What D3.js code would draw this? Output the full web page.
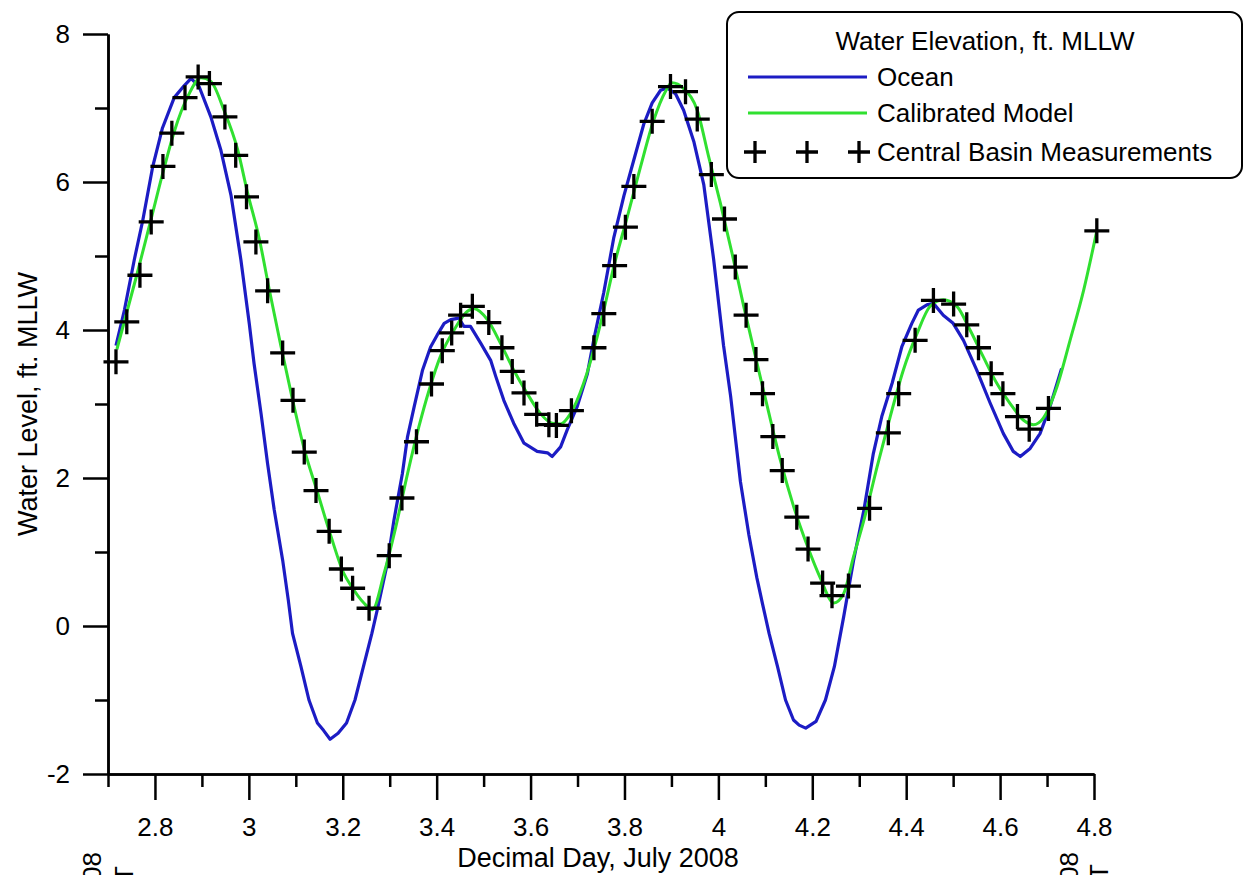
<!DOCTYPE html>
<html lang="en">
<head>
<meta charset="utf-8">
<title>Water Elevation</title>
<script src="https://cdn.jsdelivr.net/npm/d3@7"></script>
<style>
  body { margin: 0; background: #fff; }
  svg { display: block; }
  text { font-family: "Liberation Sans", Arial, sans-serif; fill: #000; }
</style>
</head>
<body>
<script>

// ---- data ----
var xTicks = [2.8, 3, 3.2, 3.4, 3.6, 3.8, 4, 4.2, 4.4, 4.6, 4.8];
var xMinorTicks = [2.7, 2.9, 3.1, 3.3, 3.5, 3.7, 3.9, 4.1, 4.3, 4.5, 4.7];
var yTicks = [-2, 0, 2, 4, 6, 8];
var yMinorTicks = [-1, 1, 3, 5, 7];

var seriesNames = ["Ocean", "Calibrated Model", "Central Basin Measurements"];

// Ocean (blue)
var oceanDay = [2.717, 2.735, 2.756, 2.774, 2.795, 2.816, 2.841, 2.862, 2.877, 2.894, 2.919, 2.940, 2.962, 2.983,
  3.001, 3.011, 3.026, 3.040, 3.054, 3.072, 3.084, 3.093, 3.111, 3.128, 3.146, 3.159, 3.173, 3.190, 3.208, 3.226,
  3.244, 3.262, 3.275, 3.295, 3.309, 3.327, 3.338, 3.352, 3.370, 3.387, 3.401, 3.416, 3.430, 3.447, 3.458, 3.472,
  3.494, 3.515, 3.526, 3.543, 3.564, 3.586, 3.614, 3.636, 3.646, 3.664, 3.678, 3.699, 3.721, 3.735, 3.756, 3.777,
  3.799, 3.820, 3.841, 3.859, 3.877, 3.891, 3.909, 3.926, 3.948, 3.969, 3.990, 4.011, 4.026, 4.047, 4.065, 4.082,
  4.094, 4.108, 4.126, 4.143, 4.160, 4.172, 4.186, 4.208, 4.228, 4.247, 4.267, 4.288, 4.310, 4.330, 4.348, 4.370,
  4.391, 4.412, 4.426, 4.444, 4.458, 4.479, 4.500, 4.522, 4.550, 4.579, 4.607, 4.628, 4.643, 4.664, 4.685, 4.706, 4.731];
var oceanLevel = [3.79, 4.27, 4.95, 5.48, 6.20, 6.73, 7.14, 7.30, 7.40, 7.29, 6.88, 6.44, 5.82, 4.95,
  4.08, 3.55, 2.87, 2.19, 1.57, 0.89, 0.35, -0.10, -0.55, -1.00, -1.31, -1.41, -1.53, -1.45, -1.31, -1.00,
  -0.55, -0.10, 0.26, 0.85, 1.43, 2.06, 2.56, 2.96, 3.46, 3.77, 3.93, 4.09, 4.14, 4.16, 4.05, 4.05,
  3.82, 3.59, 3.37, 3.05, 2.74, 2.47, 2.36, 2.34, 2.29, 2.42, 2.65, 2.96, 3.41, 3.88, 4.51, 5.24,
  5.82, 6.30, 6.78, 7.07, 7.24, 7.27, 7.19, 6.97, 6.54, 5.96, 4.95, 3.79, 3.11, 1.95, 1.23, 0.65,
  0.30, -0.10, -0.55, -1.00, -1.27, -1.34, -1.38, -1.29, -1.00, -0.55, 0.13, 0.89, 1.57, 2.33, 2.83, 3.28,
  3.78, 4.09, 4.27, 4.34, 4.36, 4.20, 4.09, 3.86, 3.46, 3.01, 2.60, 2.36, 2.29, 2.40, 2.60, 2.96, 3.48];

// Calibrated model (green)
var modelDay = [2.719, 2.762, 2.791, 2.820, 2.841, 2.871, 2.898, 2.919, 2.947, 2.976, 2.997, 3.022, 3.043, 3.068,
  3.093, 3.118, 3.146, 3.174, 3.203, 3.217, 3.245, 3.263, 3.288, 3.313, 3.338, 3.362, 3.384, 3.409, 3.437, 3.465,
  3.479, 3.508, 3.536, 3.564, 3.593, 3.621, 3.646, 3.664, 3.685, 3.713, 3.742, 3.756, 3.777, 3.806, 3.834, 3.862,
  3.887, 3.901, 3.926, 3.955, 3.979, 4.004, 4.029, 4.054, 4.079, 4.104, 4.132, 4.160, 4.189, 4.217, 4.246, 4.267,
  4.288, 4.310, 4.338, 4.366, 4.394, 4.423, 4.451, 4.479, 4.508, 4.536, 4.564, 4.593, 4.621, 4.650, 4.671, 4.692,
  4.721, 4.749, 4.778, 4.806];
var modelLevel = [3.74, 4.76, 5.48, 6.20, 6.68, 7.17, 7.41, 7.36, 6.97, 6.44, 5.86, 5.24, 4.56, 3.79,
  3.06, 2.39, 1.81, 1.23, 0.70, 0.55, 0.31, 0.22, 0.71, 1.34, 2.06, 2.69, 3.19, 3.66, 4.00, 4.25,
  4.29, 4.14, 3.82, 3.46, 3.14, 2.87, 2.74, 2.73, 2.87, 3.28, 3.91, 4.27, 4.85, 5.53, 6.20, 6.83,
  7.22, 7.34, 7.26, 6.97, 6.35, 5.72, 5.04, 4.32, 3.64, 2.97, 2.24, 1.62, 1.09, 0.65, 0.31, 0.44,
  0.94, 1.43, 2.15, 2.83, 3.46, 3.95, 4.32, 4.41, 4.32, 4.00, 3.64, 3.28, 3.01, 2.78, 2.72, 2.81,
  3.23, 3.86, 4.54, 5.34];

// Central basin measurements (crosses)
var measDay = [2.717, 2.740, 2.768, 2.792, 2.817, 2.836, 2.864, 2.892, 2.916, 2.949, 2.972, 2.995, 3.015, 3.040,
  3.072, 3.094, 3.118, 3.143, 3.171, 3.197, 3.221, 3.256, 3.299, 3.326, 3.357, 3.389, 3.412, 3.432, 3.451, 3.476,
  3.511, 3.539, 3.561, 3.586, 3.613, 3.639, 3.655, 3.687, 3.735, 3.756, 3.779, 3.802, 3.820, 3.859, 3.898, 3.930,
  3.955, 3.985, 4.013, 4.036, 4.059, 4.080, 4.094, 4.116, 4.136, 4.167, 4.191, 4.222, 4.242, 4.277, 4.322, 4.362,
  4.384, 4.419, 4.458, 4.501, 4.529, 4.554, 4.581, 4.606, 4.637, 4.662, 4.703, 4.806];
var measLevel = [3.57, 4.11, 4.74, 5.46, 6.21, 6.66, 7.14, 7.42, 7.33, 6.88, 6.36, 5.80, 5.19, 4.53,
  3.69, 3.05, 2.35, 1.83, 1.28, 0.77, 0.51, 0.24, 0.95, 1.73, 2.49, 3.27, 3.72, 3.96, 4.20, 4.32,
  4.10, 3.76, 3.44, 3.15, 2.86, 2.72, 2.71, 2.91, 3.76, 4.22, 4.87, 5.39, 5.94, 6.82, 7.29, 7.22,
  6.85, 6.10, 5.50, 4.85, 4.20, 3.60, 3.14, 2.56, 2.10, 1.47, 1.04, 0.58, 0.41, 0.54, 1.59, 2.61,
  3.14, 3.86, 4.40, 4.35, 4.07, 3.76, 3.41, 3.14, 2.83, 2.66, 2.94, 5.34];

// ---- drawing ----
var w = 1246, h = 875;
var blue = "#1c1cc4", green = "#30e030";
var plusPath = "M-12.5,0H12.5M0,-12.5V12.5";

var svg = d3.select("body").append("svg").attr("width", w).attr("height", h);

var x = d3.scaleLinear().domain([2.7, 4.8]).range([108, 1094]);
var y = d3.scaleLinear().domain([-2, 8]).range([774, 34]);

function zip(a, b) { return a.map(function(d, i) { return [d, b[i]]; }); }

var line = d3.line().x(function(d) { return x(d[0]); }).y(function(d) { return y(d[1]); });

// minor ticks first, then major axes on top
svg.append("g").attr("transform", "translate(108,0)")
  .call(d3.axisLeft(y).tickValues(yMinorTicks).tickSize(13).tickSizeOuter(0).tickFormat(""));
svg.append("g").attr("transform", "translate(0,774)")
  .call(d3.axisBottom(x).tickValues(xMinorTicks).tickSize(13).tickSizeOuter(0).tickFormat(""));

// plain hyphen for negatives, like the original
var plain = function(d) { return String(d); };
svg.append("g").attr("transform", "translate(108,0)")
  .call(d3.axisLeft(y).tickValues(yTicks).tickSize(25).tickSizeOuter(0).tickPadding(13).tickFormat(plain));
svg.append("g").attr("transform", "translate(0,774)")
  .call(d3.axisBottom(x).tickValues(xTicks).tickSize(26).tickSizeOuter(0).tickPadding(18).tickFormat(plain));

svg.selectAll(".domain, .tick line").attr("stroke", "#000").attr("stroke-width", 2.5);
svg.selectAll(".tick text").attr("font-size", 26).attr("font-family", null).attr("fill", "#000");

// series
svg.append("path").datum(zip(oceanDay, oceanLevel))
  .attr("d", line).attr("fill", "none").attr("stroke", blue).attr("stroke-width", 3.2)
  .attr("stroke-linejoin", "round");
svg.append("path").datum(zip(modelDay, modelLevel))
  .attr("d", line.curve(d3.curveMonotoneX)).attr("fill", "none").attr("stroke", green).attr("stroke-width", 3)
  .attr("stroke-linejoin", "round");

svg.selectAll("path.meas")
  .data(zip(measDay, measLevel))
  .enter().append("path")
  .attr("class", "meas")
  .attr("transform", function(d) { return "translate(" + x(d[0]) + "," + y(d[1]) + ")"; })
  .attr("d", plusPath)
  .attr("stroke", "#000").attr("stroke-width", 3.3).attr("fill", "none");

// axis titles
svg.append("text").attr("x", 598).attr("y", 867).attr("text-anchor", "middle")
  .attr("font-size", 27).text("Decimal Day, July 2008");
svg.append("text").attr("transform", "translate(37,404) rotate(-90)").attr("text-anchor", "middle")
  .attr("font-size", 27).text("Water Level, ft. MLLW");

// date stamps at the axis ends, mostly cut off by the page edge
var stamps = [[101, 852, "7/2/2008"], [133, 866, "16:48 GMT"], [1078, 852, "7/4/2008"], [1108, 864, "19:12 GMT"]];
stamps.forEach(function(s) {
  svg.append("text").attr("transform", "translate(" + s[0] + "," + s[1] + ") rotate(-90)")
    .attr("text-anchor", "end").attr("font-size", 26).text(s[2]);
});

// legend
var lg = svg.append("g");
lg.append("rect").attr("x", 727).attr("y", 12).attr("width", 515).attr("height", 166)
  .attr("rx", 12).attr("fill", "#fff").attr("stroke", "#000").attr("stroke-width", 2);
lg.append("text").attr("x", 985).attr("y", 50).attr("text-anchor", "middle").attr("font-size", 26)
  .text("Water Elevation, ft. MLLW");
lg.append("line").attr("x1", 748).attr("x2", 867).attr("y1", 77).attr("y2", 77)
  .attr("stroke", blue).attr("stroke-width", 3);
lg.append("line").attr("x1", 748).attr("x2", 867).attr("y1", 113).attr("y2", 113)
  .attr("stroke", green).attr("stroke-width", 3);
[755, 807, 859].forEach(function(px) {
  lg.append("path").attr("transform", "translate(" + px + ",152)").attr("d", "M-11,0H11M0,-11V11")
    .attr("stroke", "#000").attr("stroke-width", 3.3);
});
var legendY = [86, 122, 161];
seriesNames.forEach(function(n, i) {
  lg.append("text").attr("x", 877).attr("y", legendY[i]).attr("font-size", 26).text(n);
});

</script>
</body>
</html>
